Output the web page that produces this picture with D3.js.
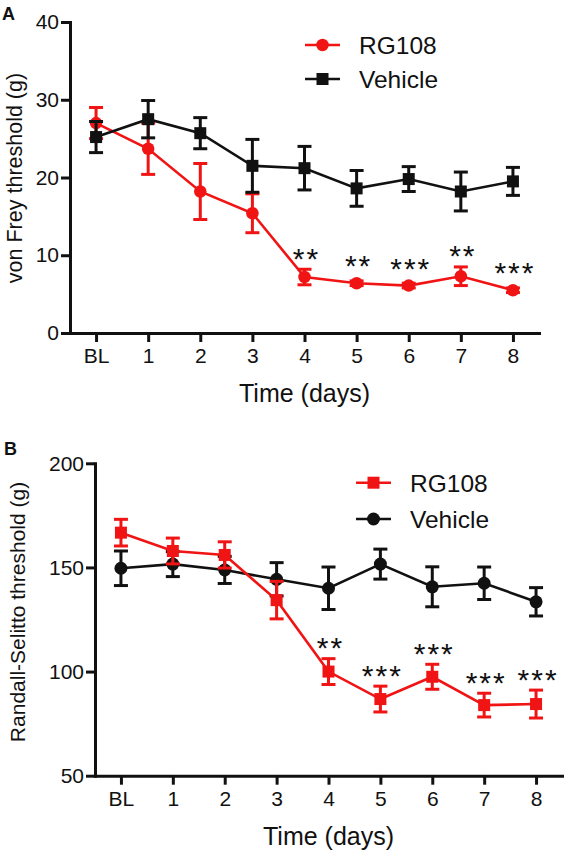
<!DOCTYPE html>
<html>
<head>
<meta charset="utf-8">
<script src="https://cdn.jsdelivr.net/npm/d3@7"></script>
<style>
  html, body { margin: 0; padding: 0; background: #fff; }
  svg text { font-family: "Liberation Sans", Arial, Helvetica, sans-serif; fill: #111; }
</style>
</head>
<body>
<svg id="chart" width="566" height="852"></svg>
<script>
// ---------------- data ----------------
const timeLabels = ["BL", "1", "2", "3", "4", "5", "6", "7", "8"];

// Panel A: von Frey threshold (g)
const vonFreyRG108     = [27.0, 23.7, 18.2, 15.4, 7.2, 6.4, 6.1, 7.3, 5.5];
const vonFreyRG108Sem  = [2.0, 3.3, 3.6, 2.5, 1.0, 0.3, 0.3, 1.2, 0.3];
const vonFreyVehicle   = [25.2, 27.5, 25.7, 21.5, 21.2, 18.6, 19.8, 18.2, 19.5];
const vonFreyVehicleSem= [2.0, 2.4, 2.0, 3.4, 2.8, 2.3, 1.6, 2.5, 1.8];
const vonFreyStars     = ["", "", "", "", "**", "**", "***", "**", "***"];
const vonFreyTicks     = [0, 10, 20, 30, 40];

// Panel B: Randall-Selitto threshold (g)
const rsRG108      = [166.7, 157.9, 156.0, 134.3, 100.0, 86.8, 97.5, 83.9, 84.4];
const rsRG108Sem   = [6.4, 6.2, 6.3, 9.0, 6.2, 6.2, 6.0, 5.7, 6.7];
const rsVehicle    = [149.6, 151.6, 148.8, 144.3, 140.0, 151.6, 140.7, 142.4, 133.5];
const rsVehicleSem = [8.3, 6.0, 6.5, 8.0, 10.2, 7.2, 9.6, 7.8, 6.8];
const rsStars      = ["", "", "", "", "**", "***", "***", "***", "***"];
const rsTicks      = [50, 100, 150, 200];

const seriesNames = ["RG108", "Vehicle"];
const RED = "#f01414", BLACK = "#111111";

// ---------------- drawing ----------------
const svg = d3.select("#chart");
const FONT = '"Liberation Sans", Arial, Helvetica, sans-serif';

function drawMarker(g, shape, x, y, color, size) {
  if (shape === "circle") {
    g.append("circle").attr("cx", x).attr("cy", y).attr("r", size / 2).attr("fill", color);
  } else {
    g.append("rect").attr("x", x - size / 2).attr("y", y - size / 2)
      .attr("width", size).attr("height", size).attr("fill", color);
  }
}

function panel(cfg) {
  const g = svg.append("g");
  const x = d3.scaleLinear().domain([-0.5, timeLabels.length - 0.5]).range(cfg.xRange);
  const y = d3.scaleLinear().domain(cfg.yDomain).range(cfg.yRange);
  const idx = timeLabels.map((d, i) => i);

  // axes
  const xAxis = d3.axisBottom(x).tickValues(idx).tickFormat(i => timeLabels[i])
    .tickSizeInner(9).tickSizeOuter(0).tickPadding(6);
  const yAxis = d3.axisLeft(y).tickValues(cfg.yTicks).tickFormat(d3.format("d"))
    .tickSizeInner(9).tickSizeOuter(0).tickPadding(2);

  const gx = g.append("g").attr("transform", `translate(0,${cfg.yRange[0]})`).call(xAxis);
  const gy = g.append("g").attr("transform", `translate(${cfg.xRange[0]},0)`).call(yAxis);
  [gx, gy].forEach(a => {
    a.select(".domain").attr("stroke", BLACK).attr("stroke-width", 3).attr("stroke-linecap", "square");
    a.selectAll(".tick line").attr("stroke", BLACK).attr("stroke-width", 3);
    a.selectAll(".tick text").attr("font-family", FONT).attr("font-size", 21).attr("fill", "#111");
  });

  // series
  cfg.series.forEach(s => {
    const sg = g.append("g");
    const line = d3.line().x((d, i) => x(i)).y(d => y(d));
    sg.append("path").datum(s.values).attr("d", line)
      .attr("fill", "none").attr("stroke", s.color).attr("stroke-width", 2.6);
    s.values.forEach((v, i) => {
      const cx = x(i), top = y(v + s.sem[i]), bot = y(v - s.sem[i]);
      sg.append("line").attr("x1", cx).attr("x2", cx).attr("y1", top).attr("y2", bot)
        .attr("stroke", s.color).attr("stroke-width", 3);
      [top, bot].forEach(yy => sg.append("line").attr("x1", cx - 7).attr("x2", cx + 7)
        .attr("y1", yy).attr("y2", yy).attr("stroke", s.color).attr("stroke-width", 3));
      drawMarker(sg, s.shape, cx, y(v), s.color, s.size);
    });
  });

  // significance stars
  const ref = cfg.series.find(s => s.name === "RG108");
  cfg.stars.forEach((st, i) => {
    if (!st) return;
    const v = ref.values[i];
    const top = Math.min(y(v + ref.sem[i]), y(v) - ref.size / 2);
    const fs = 30;
    g.append("text").attr("x", x(i) + 2).attr("y", top - 17 + 0.55 * fs)
      .attr("text-anchor", "middle").attr("font-size", fs).attr("letter-spacing", 2)
      .attr("font-family", FONT).text(st);
  });

  // legend
  cfg.legendSeries.forEach((s, k) => {
    const ly = cfg.legendY[k];
    const lg = g.append("g");
    lg.append("line").attr("x1", cfg.legendX).attr("x2", cfg.legendX + 35)
      .attr("y1", ly).attr("y2", ly).attr("stroke", s.color).attr("stroke-width", 2.6);
    drawMarker(lg, s.shape, cfg.legendX + 17.5, ly, s.color, s.size);
    lg.append("text").attr("x", cfg.legendX + 54).attr("y", ly + 8.8)
      .attr("font-size", 24.5).attr("font-family", FONT).text(s.name);
  });

  // axis titles
  const xc = (cfg.xRange[0] + cfg.xRange[1]) / 2;
  g.append("text").attr("x", xc).attr("y", cfg.yRange[0] + 69)
    .attr("text-anchor", "middle").attr("font-size", 25).attr("font-family", FONT).text("Time (days)");
  g.append("text").attr("transform", `translate(${cfg.yTitleX},${cfg.yTitleY}) rotate(-90)`)
    .attr("text-anchor", "middle").attr("font-size", cfg.yTitleSize).attr("font-family", FONT)
    .text(cfg.yTitle);

  // panel letter
  g.append("text").attr("x", cfg.letterPos[0]).attr("y", cfg.letterPos[1])
    .attr("font-size", 18).attr("font-weight", "bold").attr("font-family", FONT).text(cfg.letter);
}

const aRed = { name: seriesNames[0], values: vonFreyRG108, sem: vonFreyRG108Sem, color: RED, shape: "circle", size: 12.5 };
const aBlk = { name: seriesNames[1], values: vonFreyVehicle, sem: vonFreyVehicleSem, color: BLACK, shape: "square", size: 12 };
panel({
  xRange: [70, 539], yDomain: [0, 40], yRange: [333, 22], yTicks: vonFreyTicks,
  series: [aRed, aBlk], legendSeries: [aRed, aBlk],
  stars: vonFreyStars, legendX: 305, legendY: [45, 79],
  yTitle: "von Frey threshold (g)", yTitleX: 22, yTitleY: 178, yTitleSize: 21.5,
  letter: "A", letterPos: [2, 20]
});

const bRed = { name: seriesNames[0], values: rsRG108, sem: rsRG108Sem, color: RED, shape: "square", size: 12 };
const bBlk = { name: seriesNames[1], values: rsVehicle, sem: rsVehicleSem, color: BLACK, shape: "circle", size: 13 };
panel({
  xRange: [95, 562], yDomain: [50, 200], yRange: [775.7, 463.3], yTicks: rsTicks,
  series: [bBlk, bRed], legendSeries: [bRed, bBlk],
  stars: rsStars, legendX: 356, legendY: [482.7, 519],
  yTitle: "Randall-Selitto threshold (g)", yTitleX: 25, yTitleY: 612, yTitleSize: 21,
  letter: "B", letterPos: [4, 455]
});
</script>
</body>
</html>
